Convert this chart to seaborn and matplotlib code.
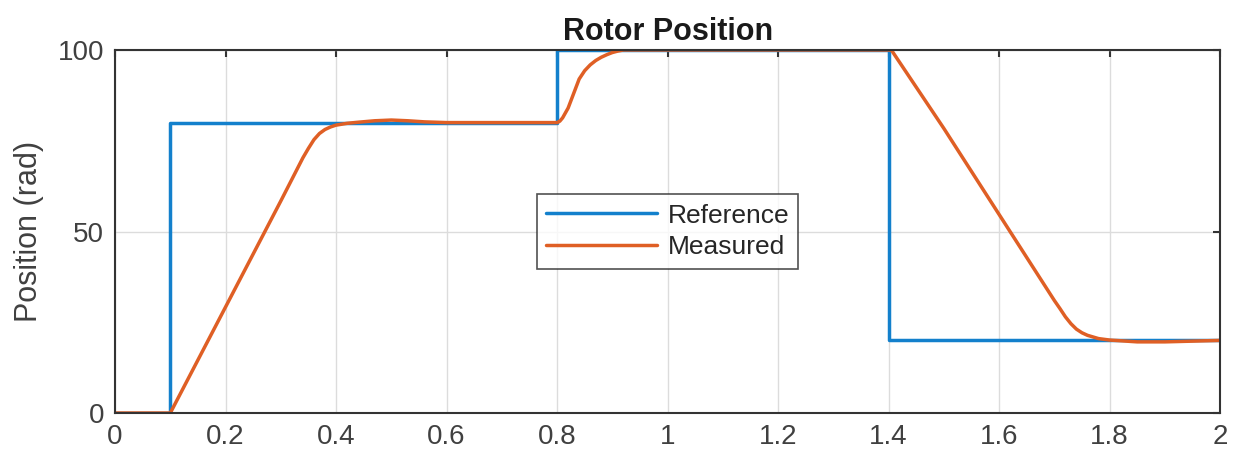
import numpy as np
import pandas as pd
import matplotlib
matplotlib.use("Agg")
import matplotlib.pyplot as plt
import seaborn as sns

# Reference (step) signal
ref_time = [0.0, 0.1, 0.1, 0.8, 0.8, 1.4, 1.4, 2.0]
ref_pos = [0, 0, 80, 80, 100, 100, 20, 20]

# Measured rotor position
meas_time = [0.0, 0.1, 0.15, 0.2, 0.25, 0.3, 0.34, 0.35, 0.36, 0.37, 0.38, 0.39, 0.40,
             0.42, 0.44, 0.47, 0.5, 0.53, 0.56, 0.6, 0.7, 0.8, 0.805, 0.81, 0.82, 0.83,
             0.84, 0.85, 0.86, 0.87, 0.88, 0.89, 0.9, 0.91, 0.92, 0.95, 1.0, 1.2, 1.405,
             1.5, 1.6, 1.7, 1.71, 1.72, 1.73, 1.74, 1.75, 1.76, 1.78, 1.8, 1.85, 1.9,
             1.95, 2.0]
meas_pos = [0, 0, 14.6, 29.2, 43.8, 58.4, 70.3, 72.9, 75.3, 77.0, 78.1, 78.8, 79.3,
            79.8, 80.1, 80.5, 80.7, 80.5, 80.2, 80.0, 80.0, 80.0, 80.4, 81.3, 84.0, 88.0,
            92.0, 94.3, 95.9, 97.1, 98.0, 98.7, 99.3, 99.7, 100.0, 100.0, 100.0, 100.0, 100.0,
            78.4, 54.7, 31.0, 28.8, 26.5, 24.6, 23.1, 22.1, 21.4, 20.5, 20.1, 19.6, 19.6,
            19.8, 20.0]

ref_df = pd.DataFrame({"t": ref_time, "pos": ref_pos, "signal": "Reference"})
meas_df = pd.DataFrame({"t": meas_time, "pos": meas_pos, "signal": "Measured"})

sns.set_style("white")
plt.rcParams["font.family"] = ["Liberation Sans", "DejaVu Sans"]

fig = plt.figure(figsize=(12.45, 4.65), dpi=100)
ax = fig.add_axes([0.0924, 0.1118, 0.8876, 0.7807])

sns.lineplot(data=ref_df, x="t", y="pos", color="#1380cc", linewidth=2.5,
             label="Reference", ax=ax, sort=False, estimator=None)
sns.lineplot(data=meas_df, x="t", y="pos", color="#df5f25", linewidth=2.5,
             label="Measured", ax=ax, sort=False, estimator=None)

ax.set_xlim(0, 2)
ax.set_ylim(0, 100)
ax.set_xticks(np.arange(0, 2.01, 0.2))
ax.set_xticklabels(["0", "0.2", "0.4", "0.6", "0.8", "1", "1.2", "1.4", "1.6", "1.8", "2"])
ax.set_yticks([0, 50, 100])

ax.grid(True, color="#dcdcdc", linewidth=1)
ax.set_axisbelow(True)
for s in ax.spines.values():
    s.set_color("#333333")
    s.set_linewidth(1.5)
ax.tick_params(direction="in", length=5, width=1.5, color="#333333",
               top=True, right=True, labelsize=20, labelcolor="#404040", pad=8)

ax.set_xlabel("")
ax.set_ylabel("Position (rad)", fontsize=22, color="#404040", labelpad=10)
ax.set_title("Rotor Position", fontsize=22, fontweight="bold", color="#1a1a1a", pad=7)

leg = ax.legend(loc="center", bbox_to_anchor=(0.5, 0.5), fontsize=19, frameon=True,
                fancybox=False, edgecolor="#262626", handlelength=4.2,
                borderpad=0.35, labelspacing=0.3, handletextpad=0.4)
leg.get_frame().set_linewidth(1.2)
for txt in leg.get_texts():
    txt.set_color("#262626")

fig.savefig("out.png", dpi=100)
